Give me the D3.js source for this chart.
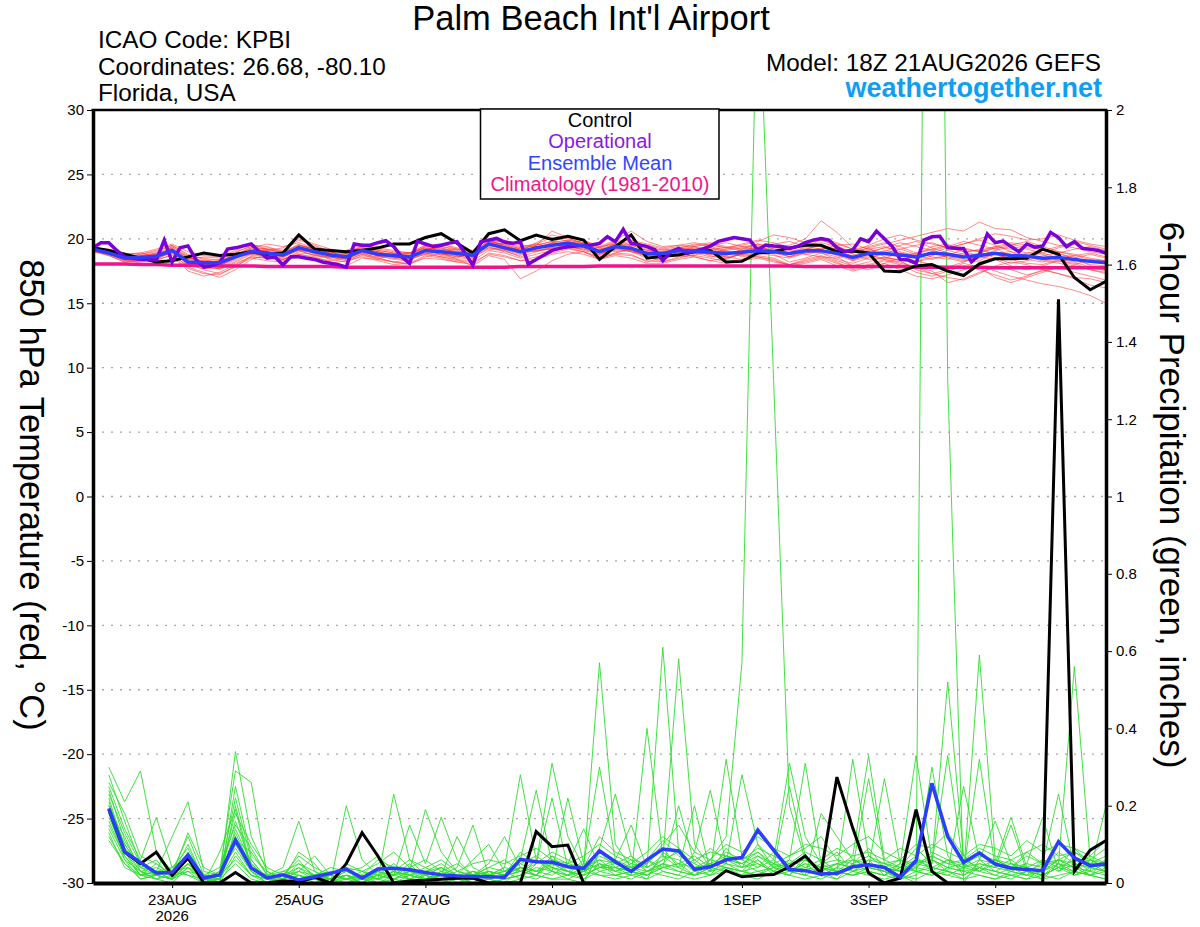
<!DOCTYPE html>
<html>
<head>
<meta charset="utf-8">
<script src="https://cdn.jsdelivr.net/npm/d3@7"></script>
<style>
  body { margin: 0; background: #fff; }
  svg { display: block; font-family: "Liberation Sans", Arial, Helvetica, sans-serif; }
</style>
</head>
<body>
<div id="chart"></div>
<script>
/* Run and time axis */
let runStart = new Date(Date.UTC(2026, 7, 21, 18));
let runEnd = new Date(Date.UTC(2026, 8, 6, 18));
let dateTicks = ["2026-08-23", "2026-08-25", "2026-08-27", "2026-08-29", "2026-09-01", "2026-09-03", "2026-09-05"];
let tempTicks = [30, 25, 20, 15, 10, 5, 0, -5, -10, -15, -20, -25, -30];
let precipTicks = [0, 0.2, 0.4, 0.6, 0.8, 1, 1.2, 1.4, 1.6, 1.8, 2];

/* 850 hPa temperature, every 6 h from 18Z 21AUG */
let control = [19.3,19.1,18.8,18.5,18.2,18.3,18.6,18.9,18.7,18.8,
  19.0,18.8,18.9,20.3,19.2,19.1,19.0,19.1,19.3,19.6,
  19.6,20.1,20.4,19.65,18.9,20.4,20.7,19.85,20.3,19.95,
  20.2,19.9,18.4,19.4,20.3,18.5,18.65,18.75,19.0,19.1,
  18.2,18.25,18.9,19.0,19.3,19.5,19.5,19.0,19.05,18.9,
  17.5,17.45,17.9,18.0,17.5,17.15,18.05,18.45,18.45,18.5,
  19.2,18.8,17.0,16.05,16.7];

let ensMean = [19.2,18.9,18.5,18.55,18.65,19.1,18.2,18.15,18.15,18.6,
  19.0,18.9,18.75,19.3,19.0,18.75,18.6,19.1,18.8,18.7,
  18.6,19.1,19.0,18.87,18.74,19.6,19.3,19.0,19.3,19.5,
  19.65,19.45,19.0,19.4,19.26,18.87,18.87,19.1,19.05,18.95,
  18.87,18.95,19.07,19.0,18.87,19.07,19.07,18.87,18.56,18.87,
  18.87,18.75,18.6,18.9,18.8,18.6,18.7,18.87,18.7,18.66,
  18.5,18.56,18.4,18.25,18.14];

let climatology = [18.05,18.05,18.05,18.0,18.0,17.95,17.95,17.95,17.9,17.9,
  17.9,17.85,17.85,17.85,17.85,17.85,17.8,17.8,17.8,17.8,
  17.8,17.8,17.8,17.8,17.8,17.8,17.8,17.85,17.85,17.85,
  17.85,17.85,17.9,17.9,17.9,17.9,17.9,17.9,17.9,17.9,
  17.9,17.9,17.9,17.9,17.9,17.85,17.85,17.85,17.85,17.85,
  17.85,17.85,17.8,17.8,17.8,17.8,17.8,17.75,17.75,17.75,
  17.75,17.75,17.75,17.75,17.75];

// operational run, every 3 h
let operational = [19.3,19.7,19.7,19.1,18.6,18.5,18.4,18.4,18.35,19.9,
  18.2,19.3,19.45,18.4,17.8,17.9,18.15,19.2,19.3,19.45,
  19.6,19.0,18.5,18.6,17.97,18.6,18.6,18.5,18.4,18.2,
  18.1,18.0,17.8,19.6,19.5,19.5,19.7,19.85,19.4,18.6,
  18.1,19.8,19.6,19.4,19.5,19.67,19.78,18.9,17.96,19.78,
  19.9,20.03,19.75,19.65,19.78,18.04,18.4,18.74,19.1,19.26,
  19.39,19.45,19.5,19.52,19.65,20.16,19.78,20.73,19.65,19.55,
  19.4,19.15,18.3,19.0,19.26,18.87,19.05,19.2,19.44,19.8,
  19.95,20.1,20.0,19.9,19.13,19.52,19.45,19.4,19.26,19.4,
  19.7,19.9,20.03,19.9,19.3,19.0,19.13,20.0,19.78,20.6,
  20.0,19.4,18.4,18.35,18.1,19.9,20.16,20.2,19.3,19.26,
  19.25,18.22,18.74,20.37,19.7,19.83,19.4,19.0,19.6,19.35,
  19.44,20.5,20.1,19.39,19.78,19.26,19.2,19.1,18.9];

// ensemble members (red)
let members = [
  [19.2,19.0,18.6,18.4,18.7,19.3,18.0,17.8,17.9,18.5, 19.2,19.0,18.6,19.5,19.2,18.9,18.4,19.0,18.9,18.5, 18.3,19.0,19.2,18.7,18.4,19.8,19.5,19.1,19.0,19.4, 19.9,19.7,19.1,19.6,19.4,18.7,18.6,19.3,19.2,19.0, 18.5,18.8,19.3,19.1,18.6,19.2,19.5,19.0,18.3,18.6, 19.1,18.9,18.2,18.7,19.1,18.8,18.3,18.9,19.0,18.4, 18.2,18.8,18.6,17.9,17.7],
  [19.1,18.8,18.3,18.7,18.9,19.4,18.5,18.3,17.6,18.2, 18.8,19.2,19.0,19.1,18.7,18.5,18.9,19.4,18.6,18.8, 18.9,19.3,18.7,18.5,19.0,19.4,19.0,18.7,19.5,19.8, 19.4,19.2,18.8,19.2,19.5,19.1,18.9,18.8,18.7,19.2, 19.1,18.6,18.8,19.3,19.2,18.8,18.6,18.5,18.9,19.3, 18.6,18.3,18.8,19.2,18.5,18.2,18.9,19.3,18.6,18.9, 18.8,18.3,18.0,18.4,18.3],
  [19.3,18.9,18.7,18.5,18.3,18.8,17.5,17.1,17.4,18.0, 18.6,18.5,18.4,19.0,19.3,18.6,18.3,18.8,18.4,18.9, 18.5,18.8,19.1,19.2,18.5,19.5,19.7,19.3,19.1,19.2, 19.6,19.9,19.3,19.0,19.1,18.6,18.4,19.0,19.4,18.9, 18.7,19.2,19.6,19.2,18.9,19.4,19.9,19.5,18.8,18.4, 18.5,18.9,18.7,18.4,18.7,19.2,19.0,18.5,18.1,18.3, 18.7,18.9,18.4,18.0,17.9],
  [19.2,19.1,18.8,18.9,18.6,19.0,18.4,18.6,18.5,19.0, 19.4,19.1,18.9,19.6,19.0,18.8,18.7,19.3,19.0,18.6, 18.4,19.2,19.3,19.0,18.8,19.9,19.4,18.9,19.2,19.6, 19.7,19.3,18.9,19.5,19.3,18.9,19.2,19.4,18.9,18.6, 18.8,19.0,18.9,18.7,18.5,18.9,19.2,18.7,18.3,18.9, 19.3,19.2,18.8,19.4,19.6,19.0,18.7,19.1,19.4,19.2, 18.9,18.5,18.7,18.9,18.6],
  [19.0,18.7,18.2,18.3,18.5,18.9,17.8,17.4,17.0,17.6, 18.4,18.8,18.6,19.1,18.9,18.5,18.5,18.9,18.7,18.6, 18.7,19.0,18.9,18.6,18.9,19.3,19.1,18.6,19.0,19.3, 19.5,19.4,18.7,19.3,19.0,18.5,18.7,19.0,19.3,19.1, 19.0,18.9,19.1,18.8,18.2,18.5,18.9,18.6,17.9,17.6, 18.1,18.5,18.3,18.0,17.8,18.2,18.6,18.4,17.9,17.6, 17.9,18.3,18.1,17.6,17.3],
  [19.3,19.0,18.6,18.6,18.8,19.2,18.3,18.0,18.2,18.8, 19.1,18.7,18.5,19.2,19.4,19.0,18.6,19.2,18.9,18.7, 18.8,19.4,19.0,18.8,18.6,19.7,19.2,19.3,19.6,19.4, 19.8,19.5,19.3,19.7,19.0,18.8,19.0,19.2,19.0,18.8, 19.2,19.4,19.5,19.0,18.9,19.3,19.1,18.8,18.7,19.1, 18.8,18.6,18.9,18.6,18.4,18.9,19.2,18.8,18.5,18.7, 18.4,18.2,18.5,18.8,18.5],
  [19.1,18.9,18.4,18.2,18.4,19.0,18.1,17.6,17.3,17.8, 18.7,18.9,18.8,19.4,18.8,18.4,18.2,18.7,18.5,18.2, 18.0,18.6,18.9,18.4,17.9,18.7,18.4,16.9,17.5,18.3, 18.8,19.0,18.6,18.9,19.2,18.6,18.2,18.5,18.8,19.0, 18.6,18.4,18.7,18.5,18.0,18.3,18.6,18.2,17.6,17.9, 18.3,18.0,17.4,17.1,17.5,17.9,17.6,17.2,16.8,17.1, 17.6,17.3,16.9,16.4,16.2],
  [19.2,18.9,18.5,18.8,19.0,19.5,18.8,18.4,18.1,18.7, 19.3,19.0,18.8,19.4,19.1,18.7,18.9,19.5,19.1,18.9, 18.6,19.1,19.4,19.1,18.7,19.6,19.6,19.2,19.5,20.6, 20.1,19.6,19.1,19.4,19.6,19.2,18.9,19.3,19.6,19.4, 19.1,19.3,19.6,19.4,19.2,19.6,20.1,19.7,19.2,19.4, 19.7,19.4,18.9,19.2,19.5,19.3,19.0,19.4,19.7,19.5, 19.1,18.9,19.2,19.4,19.1],
  [19.2,18.8,18.3,18.3,18.6,19.2,18.1,17.9,17.8,18.4, 19.1,19.3,19.1,19.9,19.5,19.0,18.6,19.0,18.7,18.4, 18.5,19.1,18.8,18.6,18.8,19.6,19.4,19.0,19.4,19.6, 19.5,19.1,18.8,19.3,19.4,18.9,18.5,18.9,19.1,18.7, 18.4,18.9,19.2,18.9,18.6,19.0,18.9,18.4,18.1,18.5, 18.9,18.7,18.5,18.9,18.6,18.3,18.5,18.8,18.4,18.1, 18.0,18.4,18.2,17.8,17.5],
  [19.3,19.1,18.7,18.6,18.9,19.1,18.5,18.3,18.4,18.9, 19.5,19.4,19.0,19.5,19.2,18.9,18.8,19.2,19.2,19.0, 18.9,19.3,19.2,19.0,18.9,19.9,19.5,19.1,19.3,19.7, 19.9,19.6,19.0,19.3,19.1,18.7,18.8,19.1,19.2,19.3, 19.0,18.7,18.9,19.1,18.8,19.0,19.3,19.1,18.6,18.8, 19.0,19.5,19.8,19.3,18.9,18.6,18.9,19.3,19.6,19.3, 19.2,19.0,18.7,18.4,18.2],
  [19.1,18.9,18.6,18.7,18.6,18.9,18.2,18.1,18.3,18.7, 18.9,18.6,18.4,18.9,18.8,18.6,18.4,18.8,18.6,18.5, 18.6,18.9,18.8,18.7,18.6,19.2,19.1,18.8,19.1,19.3, 19.3,19.2,18.9,19.1,19.2,19.0,18.7,18.9,18.9,18.8, 18.6,18.8,19.1,19.4,19.5,20.0,21.4,20.5,19.3,18.8, 18.4,18.1,17.8,17.3,17.0,16.8,17.3,17.9,18.2,18.0, 17.6,17.3,17.0,16.9,16.6],
  [19.2,19.0,18.8,18.9,19.2,19.6,19.0,18.7,18.6,19.1, 19.6,19.2,18.9,19.3,19.0,18.9,19.1,19.6,19.3,19.1, 18.9,19.2,19.4,19.2,19.1,20.0,19.7,19.4,19.6,20.1, 19.8,19.5,19.3,19.8,19.9,19.6,19.3,19.5,19.4,19.2, 19.3,19.6,19.9,19.7,19.3,19.5,19.7,19.4,19.0,19.3, 19.6,19.9,20.2,20.5,20.8,20.6,21.3,20.8,20.7,20.1, 19.8,19.5,19.3,19.0,18.8],
  [19.0,18.8,18.4,18.1,18.0,18.5,17.7,17.3,17.2,17.9, 18.5,18.3,18.2,18.8,18.6,18.2,17.9,18.5,18.4,18.2, 18.1,18.7,18.5,18.2,18.0,18.9,18.7,18.3,18.6,18.9, 19.2,19.0,18.5,18.8,18.7,18.3,18.2,18.6,18.7,18.5, 18.2,18.4,18.6,18.4,17.9,18.1,18.4,17.9,17.5,17.8, 18.1,17.6,17.1,16.9,17.2,17.6,17.9,17.5,17.1,16.8, 16.5,16.3,16.0,15.6,15.0],
  [19.3,19.2,18.9,18.6,18.7,19.2,18.6,18.2,17.9,18.5, 19.0,19.1,19.3,20.0,19.6,19.2,19.0,19.3,19.0,18.8, 18.7,19.4,19.6,19.3,19.0,19.6,19.4,19.1,19.7,20.3, 20.0,19.7,19.4,19.9,20.6,19.8,19.4,19.5,19.7,19.5, 19.3,19.5,19.8,20.3,20.1,19.7,19.5,19.2,18.9,19.2, 19.4,19.0,18.7,18.9,19.3,19.6,19.9,19.5,19.0,18.7, 18.9,19.3,19.6,19.2,18.9],
  [19.1,18.7,18.2,18.4,18.8,19.2,17.9,17.7,17.7,18.3, 18.9,18.7,18.4,18.8,18.5,18.3,18.5,18.9,18.5,18.2, 18.4,18.8,18.6,18.3,18.3,19.1,18.9,18.5,18.8,19.1, 19.3,19.0,18.4,18.9,18.8,18.2,18.5,18.9,18.6,18.3, 18.5,18.8,18.6,18.3,18.0,18.4,18.7,18.3,17.9,18.2, 18.6,18.3,17.6,17.3,17.6,18.1,17.8,17.0,16.6,17.0, 17.4,17.8,17.9,17.6,17.4],
  [19.2,19.0,18.6,18.8,19.1,19.5,18.7,18.5,18.3,18.8, 19.2,19.0,18.7,19.1,18.7,18.6,18.8,19.4,19.1,18.9, 18.9,19.5,19.3,18.9,18.7,19.5,19.3,19.0,19.2,19.7, 20.3,19.9,19.4,19.6,19.5,19.1,19.0,19.2,19.4,19.6, 19.3,19.1,19.3,19.6,19.8,19.4,19.2,19.5,19.6,19.2, 18.9,19.2,19.5,19.7,19.3,19.0,19.1,19.4,19.2,18.9, 19.1,19.4,19.8,19.5,19.2],
  [19.2,18.9,18.5,18.5,18.4,18.7,17.9,17.8,17.7,18.1, 18.6,18.5,18.3,18.6,18.4,18.1,18.3,18.6,18.3,18.0, 18.1,18.5,18.4,18.2,18.2,18.8,18.6,18.3,18.4,18.8, 19.0,18.8,18.4,18.7,18.5,18.1,18.1,18.4,18.6,18.3, 18.1,18.3,18.5,18.2,18.0,18.2,18.5,18.1,17.7,18.0, 18.4,18.2,17.8,17.5,16.6,16.9,17.4,17.8,17.6,17.2, 17.5,17.8,17.4,17.1,16.8],
  [19.3,19.1,18.8,18.7,18.8,19.3,18.4,18.2,18.0,18.6, 19.3,19.6,19.4,19.7,19.3,19.1,18.9,19.2,19.0,18.6, 18.5,19.0,19.0,18.9,18.9,19.7,19.9,19.5,19.4,19.5, 19.6,19.4,19.1,19.5,19.7,19.5,19.2,19.0,19.1,19.5, 19.7,19.4,19.1,19.2,19.1,18.8,19.0,19.3,19.0,19.5, 20.0,20.3,19.9,19.6,19.3,19.6,20.0,20.4,20.2,19.9, 20.0,20.3,19.9,19.6,19.4],
  [19.1,18.8,18.5,18.6,18.5,19.0,18.0,17.9,18.0,18.6, 18.8,18.6,18.6,19.2,19.1,18.7,18.5,19.0,18.8,18.6, 18.5,18.9,18.6,18.4,18.5,19.3,19.2,18.9,19.1,19.2, 19.4,19.3,19.0,19.2,19.0,18.7,18.6,18.8,19.0,18.9, 18.9,19.1,19.3,19.1,18.6,18.9,19.1,18.8,18.4,18.7, 18.5,18.4,18.2,18.5,18.7,18.4,18.2,18.5,18.8,18.6, 18.3,18.1,17.9,17.8,17.6],
  [19.2,19.0,18.7,18.4,18.6,19.4,18.6,18.1,17.9,18.7, 19.4,19.2,18.9,19.5,19.3,19.1,18.9,19.1,18.8,18.7, 18.9,19.5,19.6,19.2,18.9,19.8,19.6,19.2,19.5,19.8, 19.7,19.4,19.2,19.6,19.8,19.4,19.1,19.3,19.5,19.7, 19.4,19.2,19.4,19.5,19.3,19.7,19.9,19.6,19.2,19.0, 19.3,19.7,19.4,19.1,19.4,19.8,19.5,19.2,19.5,19.8, 19.4,19.0,18.8,18.5,18.3]
];

/* 6-hour precipitation (inches), every 6 h from 00Z 22AUG */
let controlPrecip = [0.19,0.08,0.05,0.08,0.02,0.065,0.0,0.0,
  0.027,0.0,0.0,0.005,0.003,0.015,0.0,0.05,
  0.13,0.07,0.0,0.005,0.007,0.01,0.012,0.013,
  0.0,0.0,0.0,0.133,0.094,0.098,0.0,0.0,
  0.0,0.0,0.0,0.0,0.0,0.0,0.0,0.032,
  0.016,0.02,0.022,0.042,0.07,0.025,0.274,0.142,
  0.026,0.0,0.013,0.19,0.03,0.0,0.0,0.0,
  0.0,0.0,0.0,0.0,1.51,0.03,0.085,0.11];

let meanPrecip = [0.193,0.081,0.053,0.026,0.027,0.072,0.013,0.021,
  0.111,0.039,0.013,0.021,0.008,0.016,0.025,0.036,
  0.013,0.036,0.038,0.034,0.027,0.021,0.018,0.017,
  0.016,0.015,0.061,0.055,0.054,0.042,0.038,0.083,
  0.055,0.03,0.06,0.088,0.083,0.035,0.042,0.06,
  0.066,0.137,0.085,0.035,0.032,0.023,0.025,0.042,
  0.047,0.04,0.015,0.058,0.258,0.12,0.053,0.078,
  0.049,0.038,0.035,0.032,0.107,0.065,0.045,0.049];

let membersPrecip = [
  [.18,.06,.03,.01,.00,.04,.00,.01, .08,.02,.00,.01,.00,.00,.02,.01, .00,.03,.01,.00,.02,.00,.01,.03, .01,.00,.04,.02,.07,.03,.01,.05, .02,.03,.01,.08,.05,.02,.06,.12, .57,2.40,1.30,.20,.06,.03,.02,.04, .05,.03,.01,.02,.06,.03,.01,.04, .02,.01,.03,.01,.05,.02,.04,.03],
  [.22,.09,.05,.02,.01,.07,.01,.00, .14,.05,.01,.00,.02,.01,.00,.00, .01,.00,.00,.02,.01,.03,.00,.01, .00,.01,.02,.06,.03,.01,.00,.08, .04,.02,.03,.05,.09,.04,.02,.07, .05,.08,.04,.02,.07,.03,.01,.05, .09,.04,.02,.00,5.10,1.30,.00,.06, .03,.02,.01,.04,.08,.05,.02,.06],
  [.30,.21,.29,.08,.03,.12,.02,.01, .34,.12,.03,.01,.05,.02,.01,.03, .02,.06,.04,.01,.03,.05,.02,.00, .03,.02,.08,.05,.31,.12,.04,.57, .10,.04,.06,.11,.07,.05,.09,.06, .04,.10,.06,.31,.12,.05,.08,.03, .06,.02,.04,.07,.03,.06,.04,.08, .05,.03,.02,.06,.04,.09,.05,.03],
  [.25,.14,.06,.17,.04,.09,.01,.03, .29,.26,.02,.04,.16,.03,.01,.02, .00,.03,.02,.05,.01,.02,.04,.15, .02,.04,.28,.06,.03,.22,.05,.30, .06,.15,.04,.61,.08,.03,.05,.04, .02,.06,.03,.05,.02,.18,.12,.06, .04,.27,.05,.03,.30,.07,.02,.05, .04,.06,.03,.02,.05,.03,.06,.04],
  [.20,.10,.04,.03,.12,.21,.03,.02, .22,.06,.01,.02,.03,.07,.02,.01, .03,.01,.23,.06,.02,.04,.01,.02, .04,.03,.06,.24,.05,.03,.02,.09, .23,.07,.03,.06,.58,.10,.04,.08, .06,.04,.08,.03,.05,.02,.04,.07, .33,.06,.04,.09,.05,.52,.07,.03, .05,.04,.08,.05,.03,.07,.04,.05],
  [.15,.07,.02,.05,.02,.03,.00,.08, .19,.03,.00,.01,.08,.05,.00,.20, .06,.02,.01,.03,.19,.08,.03,.02, .01,.02,.03,.02,.06,.04,.03,.05, .03,.02,.40,.07,.04,.20,.03,.05, .28,.10,.04,.06,.31,.05,.03,.02, .04,.03,.01,.05,.04,.03,.02,.59, .06,.04,.02,.03,.06,.04,.02,.03],
  [.12,.05,.02,.02,.01,.05,.01,.01, .11,.08,.02,.00,.01,.02,.04,.03, .01,.00,.02,.15,.05,.17,.06,.02, .05,.12,.04,.03,.02,.05,.14,.04, .05,.04,.06,.03,.02,.08,.24,.05, .03,.07,.05,.03,.04,.06,.03,.32, .07,.04,.03,.06,.04,.03,.25,.06, .16,.05,.03,.02,.04,.06,.03,.20],
  [.19,.12,.03,.01,.02,.06,.01,.00, .20,.04,.01,.01,.03,.01,.00,.02, .01,.02,.01,.03,.01,.02,.12,.04, .02,.01,.02,.04,.03,.02,.06,.03, .04,.03,.02,.04,.20,.05,.03,.32, .07,.05,.03,.02,.06,.04,.02,.05, .03,.02,.05,.33,.06,.04,.03,.32, .04,.15,.03,.05,.23,.04,.06,.05],
  [.28,.16,.05,.02,.03,.04,.02,.02, .16,.05,.01,.02,.06,.01,.02,.05, .03,.02,.05,.02,.03,.04,.02,.06, .10,.03,.05,.07,.04,.03,.02,.04, .06,.04,.03,.05,.03,.02,.04,.06, .05,.03,.04,.25,.07,.03,.05,.04, .06,.05,.03,.04,.07,.05,.04,.06, .05,.17,.04,.03,.05,.56,.06,.04],
  [.17,.08,.02,.03,.02,.10,.01,.03, .09,.03,.00,.03,.02,.00,.01,.02, .00,.02,.03,.01,.02,.01,.03,.02, .03,.02,.04,.03,.07,.05,.04,.06, .03,.05,.04,.07,.06,.03,.05,.04, .03,.04,.06,.03,.05,.04,.03,.06, .04,.03,.05,.03,.04,.06,.03,.04, .03,.05,.04,.03,.06,.04,.03,.05],
  [.24,.11,.04,.06,.01,.08,.02,.00, .25,.07,.03,.01,.04,.02,.03,.01, .02,.01,.03,.02,.04,.02,.01,.03, .02,.03,.01,.05,.22,.04,.03,.07, .05,.03,.05,.09,.04,.06,.03,.09, .04,.06,.02,.04,.03,.05,.06,.03, .05,.04,.03,.05,.06,.04,.05,.03, .06,.04,.05,.17,.03,.05,.04,.06],
  [.14,.06,.01,.02,.04,.02,.01,.02, .06,.02,.01,.00,.01,.01,.00,.01, .02,.00,.01,.00,.01,.00,.02,.01, .00,.01,.02,.01,.03,.02,.01,.03, .02,.01,.03,.02,.01,.03,.02,.04, .03,.02,.04,.03,.02,.01,.03,.02, .03,.02,.01,.03,.02,.04,.03,.02, .01,.03,.02,.01,.02,.03,.02,.01],
  [.21,.09,.03,.04,.02,.05,.01,.01, .12,.04,.02,.00,.02,.01,.02,.01, .01,.02,.01,.02,.01,.02,.01,.02, .03,.02,.05,.03,.04,.03,.05,.04, .04,.06,.03,.04,.05,.04,.06,.05, .04,.05,.03,.06,.04,.03,.05,.04, .27,.05,.04,.06,.05,.33,.04,.05, .04,.03,.05,.04,.06,.05,.04,.03],
  [.16,.07,.02,.01,.03,.02,.00,.01, .05,.01,.00,.01,.00,.01,.00,.00, .01,.01,.00,.01,.00,.02,.01,.00, .01,.00,.01,.02,.01,.01,.03,.02, .01,.02,.01,.03,.02,.01,.02,.03, .02,.01,.03,.02,.01,.02,.01,.03, .02,.01,.02,.01,.03,.02,.01,.02, .01,.02,.01,.02,.01,.03,.02,.01],
  [.13,.04,.02,.03,.01,.03,.02,.01, .10,.03,.01,.02,.01,.02,.01,.02, .01,.03,.02,.04,.02,.01,.02,.03, .02,.03,.04,.02,.05,.03,.02,.04, .03,.04,.02,.05,.04,.02,.03,.04, .03,.02,.05,.04,.03,.02,.04,.03, .04,.03,.02,.04,.03,.02,.04,.03, .02,.04,.03,.02,.04,.03,.02,.04],
  [.26,.18,.07,.05,.02,.13,.04,.02, .18,.10,.04,.02,.07,.04,.02,.04, .03,.05,.08,.04,.06,.03,.05,.02, .04,.06,.03,.05,.08,.06,.04,.12, .08,.06,.05,.10,.15,.08,.06,.10, .08,.12,.09,.07,.10,.09,.07,.10, .12,.08,.06,.10,.09,.13,.07,.10, .09,.07,.11,.08,.10,.09,.07,.11],
  [.11,.05,.01,.02,.01,.04,.01,.00, .07,.02,.01,.01,.02,.00,.01,.00, .02,.01,.02,.01,.00,.01,.02,.01, .01,.02,.03,.02,.01,.02,.04,.02, .02,.03,.02,.04,.03,.02,.04,.03, .02,.03,.02,.03,.02,.04,.03,.02, .03,.02,.04,.03,.02,.03,.02,.04, .03,.02,.03,.02,.04,.02,.03,.02],
  [.23,.13,.05,.03,.04,.07,.02,.04, .15,.09,.02,.03,.05,.03,.01,.03, .04,.07,.03,.06,.04,.06,.03,.05, .06,.05,.07,.09,.06,.05,.07,.10, .07,.05,.08,.12,.09,.06,.08,.07, .06,.09,.07,.05,.08,.06,.09,.07, .08,.06,.09,.07,.10,.08,.06,.09, .07,.06,.08,.10,.07,.08,.06,.09],
  [.20,.10,.04,.02,.03,.06,.01,.01, .13,.04,.02,.01,.03,.02,.01,.02, .01,.04,.02,.03,.02,.04,.02,.01, .02,.04,.03,.06,.04,.02,.03,.05, .04,.03,.06,.04,.05,.07,.04,.06, .05,.07,.04,.05,.06,.04,.05,.06, .05,.04,.06,.05,.07,.05,.06,.04, .06,.05,.04,.06,.05,.04,.07,.05],
  [.18,.08,.03,.02,.01,.05,.01,.02, .10,.06,.01,.02,.04,.01,.01,.01, .02,.01,.03,.02,.01,.03,.02,.01, .03,.02,.04,.03,.05,.04,.03,.06, .05,.07,.04,.06,.08,.04,.05,.07, .06,.08,.05,.07,.09,.12,.06,.05, .07,.05,.06,.04,.08,.06,.05,.07, .06,.04,.07,.05,.06,.08,.05,.07]
];

/* Layout */
let width = 1200, height = 927;
let plot = { left: 93, right: 1106, top: 110, bottom: 883 };

let svg = d3.select("#chart")
  .append("svg")
  .attr("width", width)
  .attr("height", height);

let x = d3.scaleUtc()
  .domain([runStart, runEnd])
  .range([plot.left, plot.right]);

let yTemp = d3.scaleLinear()
  .domain([-30, 30])
  .range([plot.bottom, plot.top]);

let yPrecip = d3.scaleLinear()
  .domain([0, 2])
  .range([plot.bottom, plot.top]);

function atHour(h) {
  return new Date(runStart.getTime() + h * 3600000);
}

// step and first hour of each series
function lineOf(scale, stepH, firstH) {
  return d3.line()
    .x(function(d, i) { return x(atHour(firstH + i * stepH)); })
    .y(function(d) { return scale(d); });
}

svg.append("clipPath")
  .attr("id", "plot-clip")
  .append("rect")
  .attr("x", plot.left)
  .attr("y", plot.top)
  .attr("width", plot.right - plot.left)
  .attr("height", plot.bottom - plot.top);

/* Dotted grid */
svg.append("g")
  .selectAll("line")
  .data(tempTicks.filter(function(d) { return d > -30 && d < 30; }))
  .enter().append("line")
  .attr("x1", plot.left)
  .attr("x2", plot.right)
  .attr("y1", function(d) { return yTemp(d); })
  .attr("y2", function(d) { return yTemp(d); })
  .attr("stroke", "#a8a8a8")
  .attr("stroke-width", 1.4)
  .attr("stroke-dasharray", "2,7");

let lines = svg.append("g").attr("clip-path", "url(#plot-clip)");

// precipitation members
lines.selectAll(".green")
  .data(membersPrecip)
  .enter().append("path")
  .attr("class", "green")
  .attr("d", lineOf(yPrecip, 6, 6))
  .attr("fill", "none")
  .attr("stroke", "#2fdc2f")
  .attr("stroke-width", 0.9);

// temperature members
lines.selectAll(".red")
  .data(members)
  .enter().append("path")
  .attr("class", "red")
  .attr("d", lineOf(yTemp, 6, 0))
  .attr("fill", "none")
  .attr("stroke", "#ff3030")
  .attr("stroke-opacity", 0.7)
  .attr("stroke-width", 0.8);

lines.append("path")
  .datum(climatology)
  .attr("d", lineOf(yTemp, 6, 0))
  .attr("fill", "none")
  .attr("stroke", "#f0138a")
  .attr("stroke-width", 3.5);

lines.append("path")
  .datum(controlPrecip)
  .attr("d", lineOf(yPrecip, 6, 6))
  .attr("fill", "none")
  .attr("stroke", "#000")
  .attr("stroke-width", 3);

lines.append("path")
  .datum(control)
  .attr("d", lineOf(yTemp, 6, 0))
  .attr("fill", "none")
  .attr("stroke", "#000")
  .attr("stroke-width", 3);

lines.append("path")
  .datum(operational)
  .attr("d", lineOf(yTemp, 3, 0))
  .attr("fill", "none")
  .attr("stroke", "#7a00d9")
  .attr("stroke-width", 3.5);

lines.append("path")
  .datum(meanPrecip)
  .attr("d", lineOf(yPrecip, 6, 6))
  .attr("fill", "none")
  .attr("stroke", "#2b3dff")
  .attr("stroke-width", 3.5);

lines.append("path")
  .datum(ensMean)
  .attr("d", lineOf(yTemp, 6, 0))
  .attr("fill", "none")
  .attr("stroke", "#2b3dff")
  .attr("stroke-width", 3.5);

/* Axes */
let leftAxis = svg.append("g")
  .attr("transform", "translate(" + plot.left + ",0)")
  .call(d3.axisLeft(yTemp).tickValues(tempTicks).tickSize(6).tickSizeOuter(0).tickPadding(3)
    .tickFormat(function(d) { return String(d); }));

let rightAxis = svg.append("g")
  .attr("transform", "translate(" + plot.right + ",0)")
  .call(d3.axisRight(yPrecip).tickValues(precipTicks).tickSize(6).tickSizeOuter(0).tickPadding(4)
    .tickFormat(function(d) { return String(+d.toFixed(1)); }));

let bottomAxis = svg.append("g")
  .attr("transform", "translate(0," + plot.bottom + ")")
  .call(d3.axisBottom(x).tickValues(dateTicks.map(function(d) { return new Date(d + "T00:00:00Z"); }))
    .tickSize(5).tickSizeOuter(0).tickPadding(6)
    .tickFormat(function(d) { return d3.utcFormat("%-d%b")(d).toUpperCase(); }));

[leftAxis, rightAxis, bottomAxis].forEach(function(g) {
  g.selectAll("text").attr("font-size", 15).attr("fill", "#000")
    .attr("font-family", "Liberation Sans, Arial, sans-serif");
  g.selectAll(".tick line").attr("stroke", "#000").attr("stroke-width", 1);
  g.select(".domain").attr("stroke", "#000");
});
leftAxis.select(".domain").attr("stroke-width", 3.5);
rightAxis.select(".domain").attr("stroke-width", 3.5);
bottomAxis.select(".domain").attr("stroke-width", 4);

// year under the first date
svg.append("text")
  .attr("x", x(new Date(dateTicks[0] + "T00:00:00Z")))
  .attr("y", 921)
  .attr("text-anchor", "middle")
  .attr("font-size", 15)
  .text(dateTicks[0].slice(0, 4));

// top border
svg.append("line")
  .attr("x1", plot.left - 1.5)
  .attr("x2", plot.right + 1.5)
  .attr("y1", plot.top)
  .attr("y2", plot.top)
  .attr("stroke", "#000")
  .attr("stroke-width", 2.5);

/* Legend box */
let legendItems = [
  { name: "Control", color: "#000000" },
  { name: "Operational", color: "#8a1ae0" },
  { name: "Ensemble Mean", color: "#3145ff" },
  { name: "Climatology (1981-2010)", color: "#ee168c" }
];

svg.append("rect")
  .attr("x", 480.5)
  .attr("y", 109)
  .attr("width", 238.5)
  .attr("height", 90)
  .attr("fill", "#fff")
  .attr("stroke", "#000")
  .attr("stroke-width", 1.5);

svg.append("g")
  .selectAll("text")
  .data(legendItems)
  .enter().append("text")
  .attr("x", 600)
  .attr("y", function(d, i) { return 127 + i * 21.4; })
  .attr("text-anchor", "middle")
  .attr("font-size", 20)
  .attr("fill", function(d) { return d.color; })
  .text(function(d) { return d.name; });

/* Titles */
svg.append("text")
  .attr("x", 591)
  .attr("y", 30)
  .attr("text-anchor", "middle")
  .attr("font-size", 34.5)
  .text("Palm Beach Int'l Airport");

let infoLeft = ["ICAO Code: KPBI", "Coordinates: 26.68, -80.10", "Florida, USA"];
svg.append("g")
  .selectAll("text")
  .data(infoLeft)
  .enter().append("text")
  .attr("x", 98)
  .attr("y", function(d, i) { return 48 + i * 26.5; })
  .attr("font-size", 24.3)
  .text(function(d) { return d; });

svg.append("text")
  .attr("x", 1101)
  .attr("y", 71)
  .attr("text-anchor", "end")
  .attr("font-size", 24.3)
  .text("Model: 18Z 21AUG2026 GEFS");

svg.append("text")
  .attr("x", 1102)
  .attr("y", 97)
  .attr("text-anchor", "end")
  .attr("font-size", 27)
  .attr("font-weight", "bold")
  .attr("fill", "#0f9ef2")
  .text("weathertogether.net");

svg.append("text")
  .attr("transform", "translate(20,495) rotate(90)")
  .attr("text-anchor", "middle")
  .attr("font-size", 34.5)
  .text("850 hPa Temperature (red, \u00B0C)");

svg.append("text")
  .attr("transform", "translate(1160,495) rotate(90)")
  .attr("text-anchor", "middle")
  .attr("font-size", 35)
  .text("6-hour Precipitation (green, inches)");
</script>
</body>
</html>
